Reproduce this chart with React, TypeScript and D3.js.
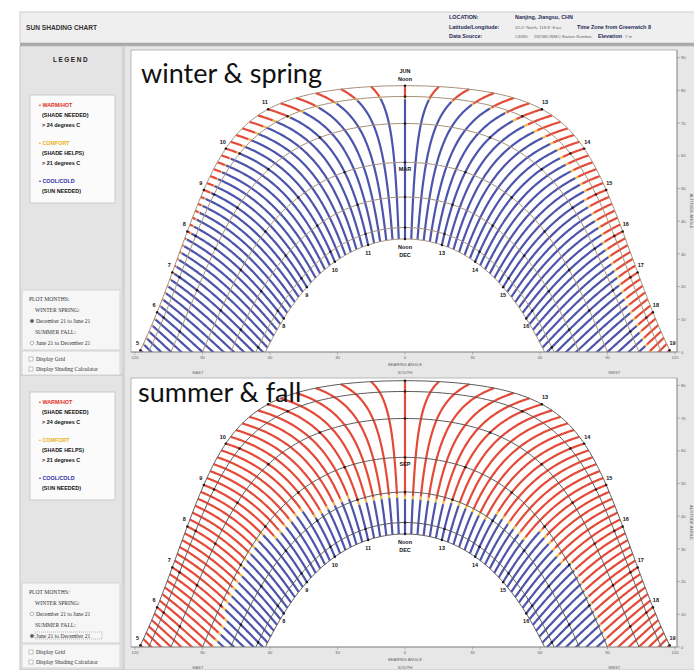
import * as d3 from "d3";
import React from "react";

// site
const LATITUDE = 32.0;

// hour buckets used for the temperature classes (5:00 ... 19:00)
const hours = [5, 6, 7, 8, 9, 10, 11, 12, 13, 14, 15, 16, 17, 18, 19];
// winter & spring: fraction of Dec21 -> Jun21 after which the hour is WARM
const winterWarmFrom = [0.95, 0.95, 0.93, 0.9, 0.87, 0.85, 0.83, 0.82, 0.8, 0.78, 0.76, 0.74, 0.73, 0.74, 0.78];
// summer & fall: fraction of Jun21 -> Dec21 until which the hour is WARM
const summerWarmUntil = [0.55, 0.55, 0.52, 0.5, 0.56, 0.62, 0.66, 0.67, 0.65, 0.6, 0.52, 0.48, 0.48, 0.49, 0.5];
const comfortBand = 0.015;

// 21st of each month, solar declination
const archDeclinations = [23.44, 20.14, 11.88, 0, -10.61, -19.94, -23.44];
const junHourLabels = [5, 6, 7, 8, 9, 10, 11, 13, 14, 15, 16, 17, 18, 19];
const decHourLabels = [8, 9, 10, 11, 13, 14, 15, 16];

const bearingTicks = [-120, -90, -60, -30, 0, 30, 60, 90, 120];
const altitudeTicks = [0, 10, 20, 30, 40, 50, 60, 70, 80, 90];
const compassLabels = [
  { name: "EAST", az: -92 },
  { name: "SOUTH", az: 0 },
  { name: "WEST", az: 93 },
];

const legendItems = [
  { text: "\u2022 WARM/HOT", color: "#e0301e", gap: 0 },
  { text: "(SHADE NEEDED)", color: "#111", gap: 0 },
  { text: "> 24 degrees C", color: "#111", gap: 0 },
  { text: "\u2022 COMFORT", color: "#eab21c", gap: 1 },
  { text: "(SHADE HELPS)", color: "#111", gap: 0 },
  { text: "> 21 degrees C", color: "#111", gap: 0 },
  { text: "\u2022 COOL/COLD", color: "#2c2ea6", gap: 1 },
  { text: "(SUN NEEDED)", color: "#111", gap: 0 },
];

const COLORS = { warm: "#e23b26", comfort: "#f2b432", cool: "#3d45a5" };
const PX_PER_DEG = 3.27;

const panels = [
  { key: "ws", title: "winter & spring", top: 50, base: 352, mid: "MAR", arch: "#a48f78", legendTop: 95, monthsTop: 290, checked: 0, hideJun: [] as number[] },
  { key: "sf", title: "summer & fall", top: 378, base: 647, mid: "SEP", arch: "#5e5857", legendTop: 392, monthsTop: 583, checked: 1, hideJun: [11] },
];

const x = d3.scaleLinear().domain([-120, 120]).range([135, 675]);

function sunPos(decl: number, hour: number): [number, number] {
  const r = Math.PI / 180;
  const H = (hour - 12) * 15 * r;
  const d = decl * r;
  const p = LATITUDE * r;
  const sinAlt = Math.sin(p) * Math.sin(d) + Math.cos(p) * Math.cos(d) * Math.cos(H);
  const alt = Math.asin(sinAlt) / r;
  const az = Math.atan2(Math.sin(H), Math.cos(H) * Math.sin(p) - Math.tan(d) * Math.cos(p)) / r;
  return [az, alt];
}

function classify(key: string, time: number, t: number) {
  const i = Math.max(0, Math.min(hours.length - 1, Math.floor(time + 1e-6) - hours[0]));
  if (key === "ws") {
    if (t >= winterWarmFrom[i]) return "warm";
    if (t >= winterWarmFrom[i] - comfortBand) return "comfort";
    return "cool";
  }
  if (t <= summerWarmUntil[i]) return "warm";
  if (t <= summerWarmUntil[i] + comfortBand) return "comfort";
  return "cool";
}

const times = d3.range(5 * 60, 19 * 60 + 1, 10).map((m) => m / 60);

function Panel({ p }: { p: (typeof panels)[number] }) {
  const y = d3.scaleLinear().domain([0, 90]).range([p.base, p.base - 90 * PX_PER_DEG]);
  const line = d3
    .line<{ az: number; alt: number }>()
    .defined((d) => d.alt > -4)
    .x((d) => x(d.az))
    .y((d) => y(d.alt));

  const runs: { cls: string; d: string }[] = [];
  times.forEach((time) => {
    const n = 120;
    const pts = d3.range(n + 1).map((i) => {
      const t = i / n;
      const decl = p.key === "ws" ? -23.44 * Math.cos(Math.PI * t) : 23.44 * Math.cos(Math.PI * t);
      const [az, alt] = sunPos(decl, time);
      return { t, az, alt };
    });
    let cur: typeof pts = [pts[0]];
    let cls = classify(p.key, time, pts[0].t);
    for (let i = 1; i < pts.length; i++) {
      const c = classify(p.key, time, (pts[i - 1].t + pts[i].t) / 2);
      if (c !== cls) {
        runs.push({ cls, d: line(cur) || "" });
        cur = [pts[i - 1]];
        cls = c;
      }
      cur.push(pts[i]);
    }
    runs.push({ cls, d: line(cur) || "" });
  });

  const arches = archDeclinations.map((decl) =>
    line(d3.range(4, 20.001, 0.05).map((h) => { const [az, alt] = sunPos(decl, h); return { az, alt }; })) || ""
  );
  const dots: [number, number][] = [];
  archDeclinations.forEach((decl) =>
    hours.forEach((h) => {
      const [az, alt] = sunPos(decl, h);
      if (alt > 0.3) dots.push([x(az), y(alt)]);
    })
  );

  const clipId = "clip-" + p.key;
  const [jAz, jAlt] = sunPos(23.44, 12);
  const [dAz, dAlt] = sunPos(-23.44, 12);
  const [mAz, mAlt] = sunPos(0, 12);
  const inside = (yy: number) => yy - 4 > p.top;
  const small = { fontFamily: "Liberation Sans, Arial, sans-serif", fontWeight: 700, fontSize: 5.5, fill: "#111" } as const;
  const tick = { fontFamily: "Liberation Sans, Arial, sans-serif", fontSize: 4.2, fill: "#666" } as const;

  return (
    <g>
      <defs>
        <clipPath id={clipId}>
          <rect x={131} y={p.top} width={546} height={p.base - p.top} />
        </clipPath>
      </defs>
      <rect x={131} y={p.top} width={546} height={p.base - p.top} fill="#fff" stroke="#a9a9a9" strokeWidth={0.8} />
      <g clipPath={`url(#${clipId})`}>
        {runs.map((r, i) => (
          <path key={i} d={r.d} fill="none" stroke={(COLORS as any)[r.cls]} strokeWidth={2.2} strokeOpacity={0.92} />
        ))}
        {arches.map((d, i) => (
          <path key={"a" + i} d={d} fill="none" stroke={p.arch} strokeWidth={1} />
        ))}
        {dots.map(([cx, cy], i) => (
          <circle key={"d" + i} cx={cx} cy={cy} r={1.2} fill="#1a1a1a" />
        ))}
        {junHourLabels.filter((h) => !p.hideJun.includes(h)).map((h) => {
          const [az, alt] = sunPos(23.44, h);
          return (
            <text key={"j" + h} x={x(az) + (h < 12 ? -3 : 3)} y={y(Math.max(alt, 0)) - 5} textAnchor="middle" {...small}>
              {h}
            </text>
          );
        })}
        {decHourLabels.map((h) => {
          const [az, alt] = sunPos(-23.44, h);
          return (
            <text key={"k" + h} x={x(az)} y={y(alt) + 10} textAnchor="middle" {...small}>
              {h}
            </text>
          );
        })}
        {inside(y(jAlt) - 13) && <text x={x(jAz)} y={y(jAlt) - 13} textAnchor="middle" {...small}>JUN</text>}
        {inside(y(jAlt) - 5) && <text x={x(jAz)} y={y(jAlt) - 5} textAnchor="middle" {...small}>Noon</text>}
        <text x={x(mAz)} y={y(mAlt) + 9} textAnchor="middle" {...small}>{p.mid}</text>
        <text x={x(dAz)} y={y(dAlt) + 10} textAnchor="middle" {...small}>Noon</text>
        <text x={x(dAz)} y={y(dAlt) + 18} textAnchor="middle" {...small}>DEC</text>
        <text x={p.key === "ws" ? 141 : 138} y={p.key === "ws" ? 83 : 402} fontFamily="Lato, 'Open Sans', sans-serif" fontSize={27} fill="#111">
          {p.title}
        </text>
      </g>
      {/* altitude axis */}
      <line x1={677} x2={677} y1={p.top} y2={p.base} stroke="#8a8a8a" strokeWidth={0.8} />
      {altitudeTicks.filter((a) => y(a) >= p.top + 2).map((a) => (
        <g key={"t" + a}>
          <line x1={677} x2={680} y1={y(a)} y2={y(a)} stroke="#8a8a8a" strokeWidth={0.6} />
          <text x={681} y={y(a) + 1.6} {...tick}>{a}</text>
        </g>
      ))}
      <text transform={`translate(690,${(p.top + p.base) / 2 + 10}) rotate(90)`} textAnchor="middle" {...tick}>
        ALTITUDE ANGLE
      </text>
      {/* bearing axis */}
      <line x1={131} x2={677} y1={p.base} y2={p.base} stroke="#8a8a8a" strokeWidth={0.8} />
      {bearingTicks.map((b) => (
        <g key={"b" + b}>
          <line x1={x(b)} x2={x(b)} y1={p.base} y2={p.base + 2.5} stroke="#8a8a8a" strokeWidth={0.6} />
          <text x={x(b)} y={p.base + 6.6} textAnchor="middle" {...tick}>{Math.abs(b)}</text>
        </g>
      ))}
      <text x={x(0)} y={p.base + 14.3} textAnchor="middle" {...tick}>BEARING ANGLE</text>
      {compassLabels.map((c) => (
        <text key={c.name} x={x(c.az)} y={p.base + 22} textAnchor="middle" {...tick}>{c.name}</text>
      ))}
    </g>
  );
}

function LeftPanel({ p }: { p: (typeof panels)[number] }) {
  const bold = { fontFamily: "Liberation Sans, Arial, sans-serif", fontWeight: 700, fontSize: 5.4 } as const;
  const serif = { fontFamily: "Liberation Serif, 'DejaVu Serif', serif", fontSize: 5.6, fill: "#333" } as const;
  let yy = p.legendTop + 12;
  const m = p.monthsTop;
  return (
    <g>
      <rect x={30} y={p.legendTop} width={85} height={108} fill="#fbfbfb" stroke="#c2c2c2" strokeWidth={0.8} />
      {legendItems.map((it, i) => {
        if (i > 0) yy += it.gap ? 18 : 10;
        return (
          <text key={i} x={it.color === "#111" ? 42 : 39} y={yy} fill={it.color} {...bold}>
            {it.text}
          </text>
        );
      })}
      <rect x={22} y={m} width={98} height={60} fill="#f6f6f6" stroke="#cfcfcf" strokeWidth={0.8} />
      <text x={29} y={m + 11} {...serif}>PLOT MONTHS:</text>
      <text x={35} y={m + 22} {...serif}>WINTER SPRING:</text>
      <circle cx={32} cy={m + 31} r={1.8} fill={p.checked === 0 ? "#555" : "#fff"} stroke="#888" strokeWidth={0.6} />
      <text x={36} y={m + 33} {...serif}>December 21 to June 21</text>
      <text x={35} y={m + 44} {...serif}>SUMMER FALL:</text>
      <circle cx={32} cy={m + 53} r={1.8} fill={p.checked === 1 ? "#555" : "#fff"} stroke="#888" strokeWidth={0.6} />
      {p.checked === 1 && <rect x={35} y={m + 49} width={67} height={7} fill="none" stroke="#777" strokeWidth={0.5} strokeDasharray="1 1" />}
      <text x={36} y={m + 55} {...serif}>June 21 to December 21</text>
      <rect x={22} y={m + 61} width={98} height={24} fill="#f6f6f6" stroke="#cfcfcf" strokeWidth={0.8} />
      <rect x={29} y={m + 67} width={4} height={4} fill="#fff" stroke="#888" strokeWidth={0.5} />
      <text x={36} y={m + 71} {...serif}>Display Grid</text>
      <rect x={29} y={m + 77} width={4} height={4} fill="#fff" stroke="#888" strokeWidth={0.5} />
      <text x={36} y={m + 81} {...serif}>Display Shading Calculator</text>
    </g>
  );
}

export default function App() {
  const hdr = { fontFamily: "Liberation Sans, Arial, sans-serif", fontSize: 5.4, fill: "#1d2a55", fontWeight: 700 } as const;
  const val = { fontFamily: "Liberation Sans, Arial, sans-serif", fontSize: 4.3, fill: "#666" } as const;
  return (
    <svg width={694} height={670} style={{ position: "absolute", left: 0, top: 0, background: "#fff" }}>
      {/* header */}
      <rect x={20} y={12} width={680} height={31} fill="#efefef" stroke="#c2c2c2" strokeWidth={0.8} />
      <rect x={20} y={43} width={680} height={3} fill="#a8a8a8" />
      <text x={26} y={30} fontFamily="Liberation Sans, Arial, sans-serif" fontWeight={700} fontSize={6.6} fill="#333">
        SUN SHADING CHART
      </text>
      <text x={449} y={19} {...hdr}>LOCATION:</text>
      <text x={515} y={19} {...hdr}>Nanjing, Jiangsu, CHN</text>
      <text x={449} y={28.5} {...hdr}>Latitude/Longitude:</text>
      <text x={515} y={28.5} {...val}>32.0° North, 118.8° East</text>
      <text x={577} y={28.5} {...hdr}>Time Zone from Greenwich 8</text>
      <text x={449} y={38} {...hdr}>Data Source:</text>
      <text x={515} y={38} {...val}>CSWD</text>
      <text x={534} y={38} {...val}>582380 WMO Station Number,</text>
      <text x={598} y={38} {...hdr}>Elevation</text>
      <text x={625} y={38} {...val}>7 m</text>

      {/* left column */}
      <rect x={20} y={46} width={103} height={624} fill="#e4e4e4" stroke="#b9b9b9" strokeWidth={0.8} />
      <text x={71} y={62} textAnchor="middle" fontFamily="Liberation Sans, Arial, sans-serif" fontWeight={700} fontSize={6.4} letterSpacing={1.6} fill="#222">
        LEGEND
      </text>
      <line x1={20} x2={123} y1={375} y2={375} stroke="#bdbdbd" strokeWidth={1} />
      {/* main panel */}
      <rect x={124} y={46} width={575} height={624} fill="#e7e7e7" stroke="#bcbcbc" strokeWidth={0.8} />

      {panels.map((p) => (
        <g key={p.key}>
          <LeftPanel p={p} />
          <Panel p={p} />
        </g>
      ))}
    </svg>
  );
}
